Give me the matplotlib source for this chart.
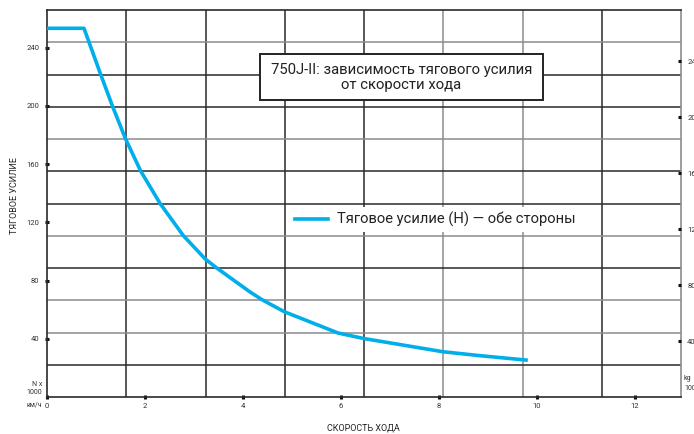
import matplotlib
matplotlib.use("Agg")
import matplotlib.pyplot as plt
from matplotlib.patches import Rectangle

# ---- data ----
speed_kmh = [0, 0.755, 1.092, 1.341, 1.598, 1.912, 2.306, 2.782, 3.231, 3.463,
             4.143, 4.382, 4.843, 5.939, 6.463, 8.082, 8.837, 9.776]
force_kn = [253.4, 253.4, 222.0, 199.5, 177.8, 155.3, 133.1, 110.9, 94.8, 88.7,
            72.2, 67.0, 58.6, 44.0, 40.2, 31.1, 28.4, 25.4]
x_ticks = [0, 2, 4, 6, 8, 10, 12]
y_ticks_left = [40, 80, 120, 160, 200, 240]
y_ticks_right = [40, 80, 120, 160, 200, 240]
series_label = "Тяговое усилие (Н) — обе стороны"
title_lines = "750J-II: зависимость тягового усилия\nот скорости хода"
x_label = "СКОРОСТЬ ХОДА"
y_label = "ТЯГОВОЕ УСИЛИЕ"

FONT = ['Roboto', 'DejaVu Sans']
plt.rcParams['font.family'] = FONT

W, H = 694, 434
fig = plt.figure(figsize=(W / 100, H / 100), dpi=100)
fig.patch.set_facecolor('white')

L, R, T, B = 47, 681, 10, 397
ax = fig.add_axes([L / W, 1 - B / H, (R - L) / W, (B - T) / H])
ax.set_xlim(0, (R - L) / 49.0)
ax.set_ylim(0, (B - T) / 1.455)

# grid (independent of ticks): 8 columns x 12 rows
dark, grey = '#2a2a2a', '#8c8c8c'
grey_v = {5, 6}
grey_h = {1, 4, 7, 9, 10}  # counted from top
for i in range(1, 8):
    ax.plot([i / 8, i / 8], [0, 1], transform=ax.transAxes,
            color=grey if i in grey_v else dark, lw=1.1, zorder=1)
for k in range(1, 12):
    y = 1 - k / 12
    ax.plot([0, 1], [y, y], transform=ax.transAxes,
            color=grey if k in grey_h else dark, lw=1.1, zorder=1)

for s in ['left', 'top', 'bottom']:
    ax.spines[s].set_color(dark)
    ax.spines[s].set_linewidth(1.2)
ax.spines['right'].set_color(grey)
ax.spines['right'].set_linewidth(1.2)

# curve
line, = ax.plot(speed_kmh, force_kn, color='#00aeea', lw=2.6, zorder=3,
                solid_joinstyle='round', label=series_label)

# ticks
ax.set_xticks(x_ticks)
ax.set_xticklabels([str(v) for v in x_ticks])
ax.set_yticks(y_ticks_left)
ax.set_yticklabels([str(v) for v in y_ticks_left])
ax.tick_params(axis='both', direction='inout', length=3, width=2.2,
               color='#111111', labelsize=5.5, labelcolor='#333333')
ax.tick_params(axis='x', pad=2.5)
ax.tick_params(axis='y', pad=4)

ax2 = ax.twinx()
ax2.set_ylim(0, (B - T) / 1.4)
ax2.set_yticks(y_ticks_right)
ax2.set_yticklabels([str(v) for v in y_ticks_right])
ax2.tick_params(axis='y', direction='in', length=2.5, width=2.2,
                color='#111111', labelsize=5.5, labelcolor='#333333', pad=4.5)
for s in ax2.spines.values():
    s.set_visible(False)

def px(x, y):
    return x / W, 1 - y / H

# axis labels
fig.text(*px(363, 428), x_label, ha='center', va='center', fontsize=6.5,
         color='#222222')
fig.text(*px(14.5, 195), y_label, ha='center', va='center', rotation=90,
         fontsize=6.5, color='#222222')

# unit notes
fig.text(*px(42, 384), "N x", ha='right', va='center', fontsize=5, color='#333333')
fig.text(*px(42, 392.5), "1000", ha='right', va='center', fontsize=5, color='#333333')
fig.text(*px(42, 405), "км/ч", ha='right', va='center', fontsize=5, color='#333333')
fig.text(*px(684, 379), "kg", ha='left', va='center', fontsize=5, color='#333333')
fig.text(*px(684, 389), "1000", ha='left', va='center', fontsize=5, color='#333333')

# title box
rect = Rectangle(px(260, 100), 283 / W, 46 / H, transform=fig.transFigure,
                 facecolor='white', edgecolor='#222222', lw=1.4, zorder=4,
                 clip_on=False)
ax.add_patch(rect)
ax.text(*px(401.5, 77.5), title_lines, transform=fig.transFigure, ha='center',
        va='center', fontsize=10.7, color='#222222', linespacing=1.15, zorder=5)

# legend
leg = ax.legend(handles=[line], loc='center left',
                bbox_to_anchor=px(290.5, 219.5), bbox_transform=fig.transFigure,
                borderaxespad=0, borderpad=0.3, frameon=True, fancybox=False,
                facecolor='white', edgecolor='none', framealpha=1,
                handlelength=2.25, handletextpad=0.6, fontsize=10.6)
for t in leg.get_texts():
    t.set_color('#222222')
leg.set_zorder(5)

fig.savefig('out.png', dpi=100)
